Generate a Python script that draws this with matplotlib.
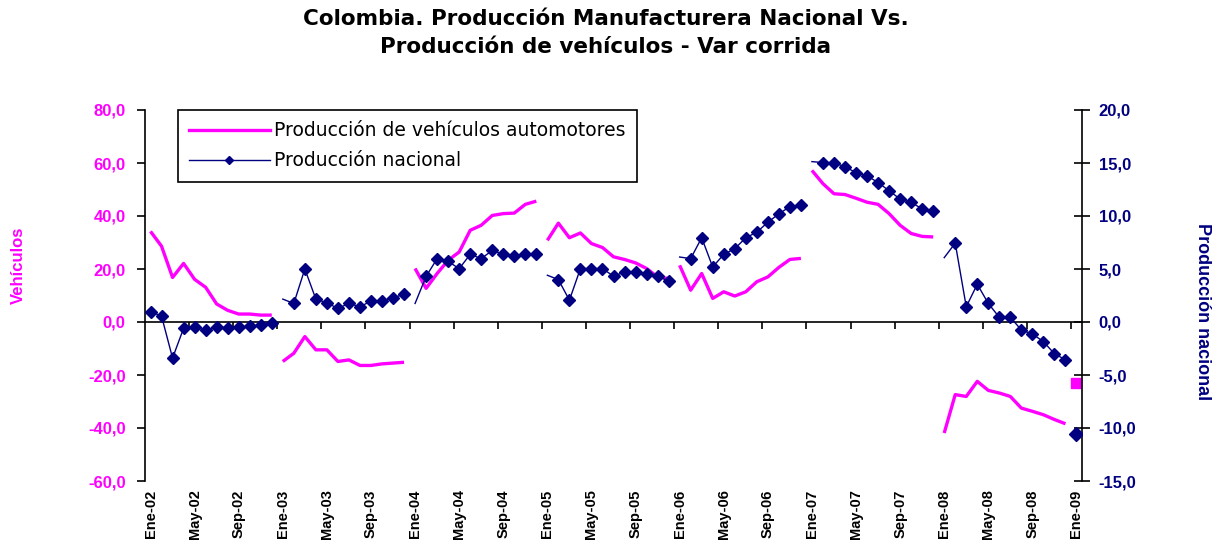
import matplotlib
matplotlib.use("Agg")
import matplotlib.pyplot as plt
from matplotlib.lines import Line2D

# ---------------- data (var. corrida, %) ----------------
years = [2002, 2003, 2004, 2005, 2006, 2007, 2008]

veh_2002 = [34.2, 28.6, 16.8, 22.1, 16.1, 13.1, 6.8, 4.4, 3.0, 3.0, 2.6, 2.6]
veh_2003 = [-14.9, -11.8, -5.5, -10.5, -10.5, -14.9, -14.3, -16.4, -16.4, -15.8, -15.5, -15.2]
veh_2004 = [20.2, 12.7, 18.3, 23.3, 26.4, 34.6, 36.5, 40.2, 40.9, 41.1, 44.4, 45.6]
veh_2005 = [30.8, 37.3, 31.8, 33.6, 29.6, 28.1, 24.6, 23.6, 22.3, 20.2, 17.0, 16.4]
veh_2006 = [21.4, 12.0, 18.3, 8.9, 11.4, 9.8, 11.4, 15.2, 17.0, 20.6, 23.6, 24.0]
veh_2007 = [57.2, 52.2, 48.4, 48.1, 46.7, 45.2, 44.4, 40.9, 36.5, 33.4, 32.3, 32.1]
veh_2008 = [-41.9, -27.4, -28.1, -22.4, -25.8, -26.8, -28.1, -32.5, -33.7, -35.0, -36.8, -38.4]
veh_2009 = [-23.0]

nac_2002 = [0.97, 0.56, -3.4, -0.6, -0.44, -0.8, -0.5, -0.53, -0.5, -0.38, -0.31, -0.12]
nac_2003 = [2.16, 1.75, 5.0, 2.16, 1.81, 1.28, 1.75, 1.44, 1.97, 2.0, 2.3, 2.6]
nac_2004 = [1.75, 4.3, 5.98, 5.72, 5.03, 6.38, 5.98, 6.75, 6.38, 6.19, 6.38, 6.38]
nac_2005 = [4.41, 4.0, 2.06, 5.04, 5.04, 5.04, 4.32, 4.72, 4.72, 4.5, 4.32, 3.87]
nac_2006 = [6.13, 5.98, 7.95, 5.19, 6.38, 6.91, 7.95, 8.47, 9.41, 10.2, 10.88, 11.07]
nac_2007 = [15.13, 15.04, 15.04, 14.63, 14.1, 13.79, 13.16, 12.38, 11.6, 11.29, 10.67, 10.5]
nac_2008 = [6.07, 7.44, 1.44, 3.56, 1.75, 0.44, 0.44, -0.75, -1.13, -1.85, -3.0, -3.56]
nac_2009 = [-10.6]

veh_series = [veh_2002, veh_2003, veh_2004, veh_2005, veh_2006, veh_2007, veh_2008, veh_2009]
nac_series = [nac_2002, nac_2003, nac_2004, nac_2005, nac_2006, nac_2007, nac_2008, nac_2009]

month_abbr = ["Ene", "Feb", "Mar", "Abr", "May", "Jun", "Jul", "Ago", "Sep", "Oct", "Nov", "Dic"]
tick_labels = []
for y in range(2002, 2010):
    for m in (0, 4, 8):
        if y == 2009 and m > 0:
            break
        tick_labels.append(f"{month_abbr[m]}-{str(y)[2:]}")

title = "Colombia. Producción Manufacturera Nacional Vs.\nProducción de vehículos - Var corrida"
legend_labels = ["Producción de vehículos automotores", "Producción nacional"]
left_label = "Vehículos"
right_label = "Producción nacional"

MAG = "#FF00FF"
NAVY = "#000080"

W, H = 1219, 550
fig = plt.figure(figsize=(W / 100, H / 100), dpi=100)
fig.patch.set_facecolor("white")

x0, x1, y0, y1 = 145, 1082, 110, 481
ax = fig.add_axes([x0 / W, 1 - y1 / H, (x1 - x0) / W, (y1 - y0) / H])
ax2 = ax.twinx()

n_cat = 85
ax.set_xlim(-0.5, n_cat - 0.5)
ax.set_ylim(-60, 80)
ax2.set_ylim(-15, 20)

# plot segments by year
for k, (v, n) in enumerate(zip(veh_series, nac_series)):
    start = 12 * k
    xs = list(range(start, start + len(v)))
    if len(v) > 1:
        ax.plot(xs, v, color=MAG, lw=2.4, solid_capstyle="butt", zorder=3)
    else:
        ax.plot(xs, v, color=MAG, marker="s", ms=7, ls="none", zorder=3)
    if len(n) > 1:
        me = list(range(0, 12)) if k == 0 else list(range(1, 12))
        ax2.plot(xs, n, color=NAVY, lw=1.0, marker="D", ms=5.8, markevery=me, zorder=4)
    else:
        ax2.plot(xs, n, color=NAVY, marker="D", ms=7.5, ls="none", zorder=4)

# axes styling
for s in ["top", "bottom"]:
    ax.spines[s].set_visible(False)
    ax2.spines[s].set_visible(False)
ax.spines["right"].set_visible(False)
ax.spines["left"].set_linewidth(1.2)
ax2.spines["left"].set_visible(False)
ax2.spines["right"].set_linewidth(1.2)

ax.set_yticks(range(-60, 81, 20))
ax.set_yticklabels([f"{t:.1f}".replace(".", ",") for t in range(-60, 81, 20)])
ax.tick_params(axis="y", direction="out", length=6, width=1.2, colors="black",
               labelcolor=MAG, labelsize=12, pad=8)
for lab in ax.get_yticklabels():
    lab.set_fontweight("bold")
    lab.set_family("Liberation Sans")

ax2.set_yticks(range(-15, 21, 5))
ax2.set_yticklabels([f"{t:.1f}".replace(".", ",") for t in range(-15, 21, 5)])
ax2.tick_params(axis="y", direction="inout", length=12, width=1.2, colors="black",
                labelcolor=NAVY, labelsize=12, pad=6)
for lab in ax2.get_yticklabels():
    lab.set_fontweight("bold")
    lab.set_family("Liberation Sans")

# x tick labels at bottom
ax.set_xticks(range(0, n_cat, 4))
ax.set_xticklabels(tick_labels, rotation=90, fontsize=10.5, fontweight="bold",
                   family="Liberation Sans")
ax.tick_params(axis="x", length=0, pad=6)

# category axis at zero with ticks between categories
ylo, yhi = ax.get_ylim()
sec = ax.secondary_xaxis((0 - ylo) / (yhi - ylo))
sec.set_xticks([t - 0.5 for t in range(4, n_cat, 4)])
sec.set_xticklabels([])
sec.tick_params(axis="x", direction="out", length=5, width=1.2, colors="black")
sec.spines["bottom"].set_linewidth(1.2)
for s in ["top", "left", "right"]:
    if s in sec.spines:
        sec.spines[s].set_visible(False)

# legend
handles = [Line2D([], [], color=MAG, lw=2.4),
           Line2D([], [], color=NAVY, lw=1.0, marker="D", ms=4)]
leg = ax.legend(handles, legend_labels, loc="upper left", bbox_to_anchor=(0.035, 1.0),
                borderaxespad=0, frameon=True, fancybox=False, edgecolor="black",
                framealpha=1, prop={"family": "DejaVu Sans", "size": 13.5},
                handlelength=4.3, handletextpad=0.25, borderpad=0.6, labelspacing=0.6)
leg.get_frame().set_linewidth(1.2)

# title and axis labels
fig.text(0.497, 1 - 9 / H, title, ha="center", va="top", fontsize=15.5,
         fontweight="bold", family="DejaVu Sans", linespacing=1.5)
fig.text(18 / W, 1 - 265 / H, left_label, rotation=90, ha="center", va="center",
         color=MAG, fontsize=12, fontweight="bold", family="Liberation Sans")
fig.text(1202 / W, 1 - 312 / H, right_label, rotation=270, ha="center", va="center",
         color=NAVY, fontsize=13, fontweight="bold", family="Liberation Sans")

fig.savefig("out.png", dpi=100, facecolor="white")
